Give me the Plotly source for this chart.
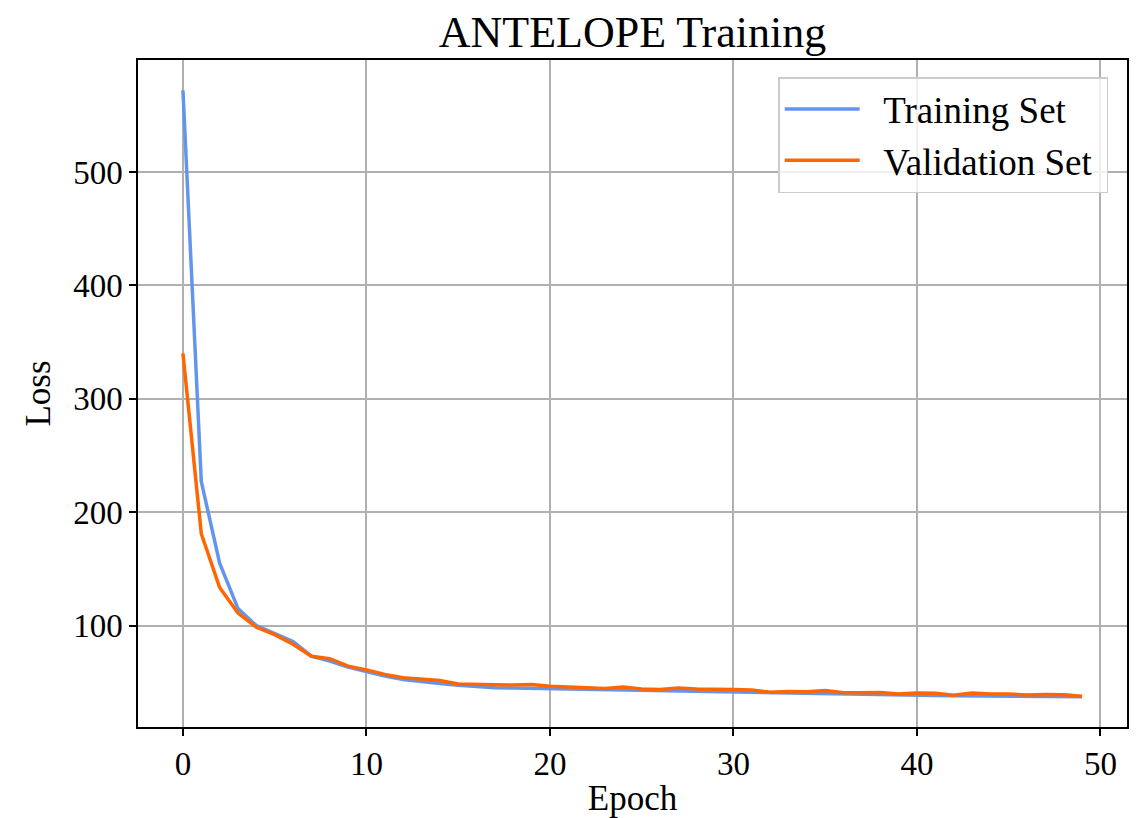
import plotly.graph_objects as go

epochs = list(range(50))
train_loss = [572, 227, 155, 115, 100, 93, 86, 73, 68.7, 63.5,
              59.5, 55.5, 52.5, 50.5, 49, 47.4, 46.2, 45.3, 45, 44.7,
              44.4, 44, 43.8, 43.5, 43.2, 42.6, 42.3, 42, 41.8, 41.5,
              41.2, 41, 40.5, 40.2, 40, 39.7, 39.5, 39.4, 39.2, 39,
              38.6, 38.4, 38.2, 38, 37.9, 37.7, 37.5, 37.4, 37.3, 37.2]
val_loss = [340, 181, 133.6, 111, 98.5, 92, 83.5, 73, 70.8, 64.3,
            61, 57, 54, 52.5, 51.5, 48.5, 48.5, 47.8, 47.6, 48,
            46.5, 46, 45.8, 44.6, 45.8, 44.2, 43.6, 45, 44.2, 43.6,
            43.6, 43.3, 41.2, 42, 41.6, 42.8, 40.9, 40.9, 41, 39.8,
            40.6, 40.3, 38.6, 40.5, 39.6, 39.6, 38.8, 39.2, 39, 37.7]
x_ticks = [0, 10, 20, 30, 40, 50]
y_ticks = [100, 200, 300, 400, 500]
series_names = ["Training Set", "Validation Set"]

FONT = "Liberation Serif, Times New Roman, serif"
GAP = "\u00a0\u00a0"

fig = go.Figure()
fig.add_trace(go.Scatter(x=epochs, y=train_loss, mode="lines", name=GAP + series_names[0] + "\u00a0",
                         line=dict(color="#6495ED", width=3.5)))
fig.add_trace(go.Scatter(x=epochs, y=val_loss, mode="lines", name=GAP + series_names[1] + "\u00a0",
                         line=dict(color="#FF6600", width=3.5)))

axis_common = dict(showline=True, linecolor="black", linewidth=1.5, mirror=True,
                   ticks="outside", ticklen=7, tickwidth=1.5, tickcolor="black",
                   showgrid=True, gridcolor="#b0b0b0", gridwidth=1.5, zeroline=False,
                   tickfont=dict(family=FONT, size=33, color="black"))

fig.update_layout(
    width=1141, height=818,
    margin=dict(l=138, r=14, t=60, b=91),
    paper_bgcolor="white", plot_bgcolor="white",
    title=dict(text="ANTELOPE Training", x=0.5, xref="paper", y=1 - 32 / 818, yanchor="middle",
               font=dict(family=FONT, size=44, color="black")),
    xaxis=dict(range=[-2.45, 51.45], tickvals=x_ticks, automargin=False,
               title=dict(text="Epoch", font=dict(family=FONT, size=35, color="black"), standoff=5),
               **axis_common),
    yaxis=dict(range=[10.6, 598.7], tickvals=y_ticks, automargin=False,
               title=dict(text="Loss", font=dict(family=FONT, size=35, color="black"), standoff=12),
               **axis_common),
    legend=dict(x=0.981, xanchor="right", y=0.9745, yanchor="top",
                bgcolor="rgba(255,255,255,0.8)", bordercolor="#cccccc", borderwidth=1.5,
                itemwidth=75,
                font=dict(family=FONT, size=37, color="black")),
    showlegend=True,
)

fig.write_html("out.html")
